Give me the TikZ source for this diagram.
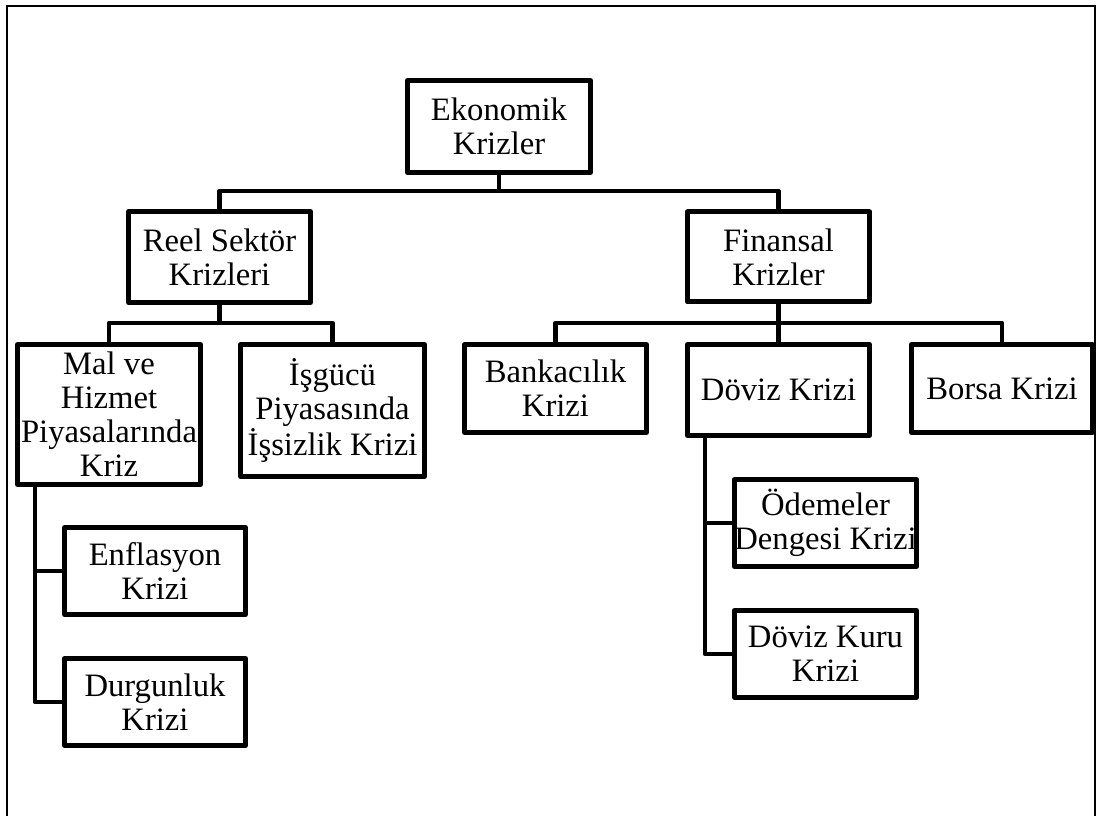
\documentclass[tikz,border=0pt]{standalone}
\usepackage{fontspec}
\setmainfont{Liberation Serif}
\begin{document}
\begin{tikzpicture}[x=0.75pt,y=-0.75pt,
  bx/.style 2 args={draw, line width=3.75pt, line join=round, minimum width={#1*0.75pt}, minimum height={#2*0.75pt}, inner sep=0pt, align=center, font=\fontsize{24.5pt}{25.5pt}\selectfont},
  conn/.style={line width=3.6pt, line join=round},
  frame/.style={line width=1.5pt}]
\useasboundingbox (0,0) rectangle (1098,816);
\draw[frame] (7,816) -- (7,6) -- (1095,6) -- (1095,816);

\node[bx={183}{92}] (root) at (499,126.5) {Ekonomik\\Krizler};
\node[bx={182}{91}] (reel) at (219.5,257) {Reel Sektör\\Krizleri};
\node[bx={182}{90}] (fin) at (778.5,257) {Finansal\\Krizler};
\node[bx={183}{140}] (mal) at (109,414.5) {Mal ve\\Hizmet\\Piyasalarında\\Kriz};
\node[bx={184}{132}] (isg) at (332.5,410.5) {İşgücü\\Piyasasında\\İşsizlik Krizi};
\node[bx={182}{88}] (bank) at (555.5,388.5) {Bankacılık\\Krizi};
\node[bx={182}{91}] (dov) at (778.5,390) {Döviz Krizi};
\node[bx={181}{88}] (bor) at (1002,388.5) {Borsa Krizi};
\node[bx={181}{87}] (enf) at (155,571) {Enflasyon\\Krizi};
\node[bx={181}{87}] (dur) at (155,702) {Durgunluk\\Krizi};
\node[bx={182}{87}] (ode) at (825.5,523) {Ödemeler\\Dengesi Krizi};
\node[bx={182}{87}] (kur) at (825.5,654) {Döviz Kuru\\Krizi};

\coordinate (bus1) at (499,191);
\coordinate (bus2) at (219.5,323);
\coordinate (bus3) at (778.5,323);
\coordinate (malT) at (35,487);
\coordinate (dovT) at (705,438);

\draw[conn] (root.south) -- (bus1);
\draw[conn] (reel.north) |- (bus1) -| (fin.north);
\draw[conn] (reel.south) -- (bus2);
\draw[conn] (mal.north) |- (bus2) -| (isg.north);
\draw[conn] (fin.south) -- (dov.north);
\draw[conn] (bank.north) |- (bus3) -| (bor.north);
\draw[conn] (malT) |- (enf.west);
\draw[conn] (malT) |- (dur.west);
\draw[conn] (dovT) |- (ode.west);
\draw[conn] (dovT) |- (kur.west);
\end{tikzpicture}
\end{document}
